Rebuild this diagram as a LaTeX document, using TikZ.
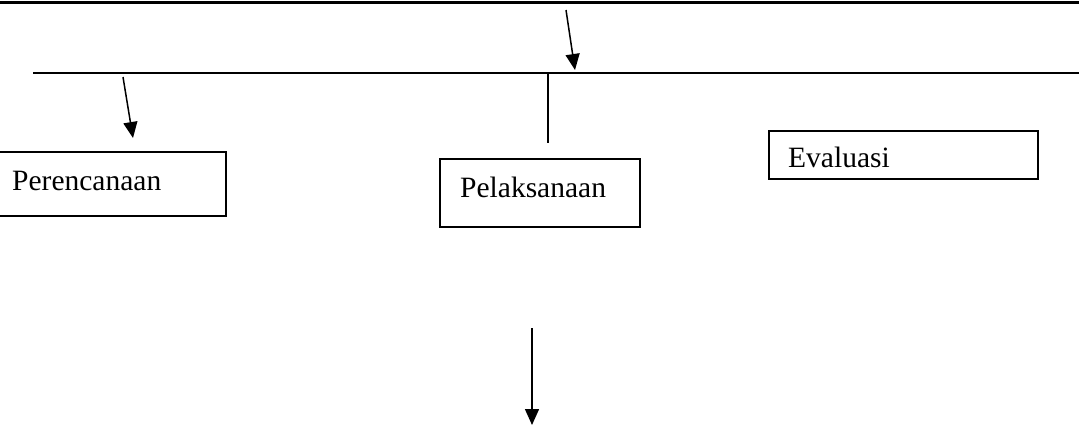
\documentclass[tikz,border=0pt]{standalone}
\usepackage{fontspec}
\setmainfont{Liberation Serif}
\usetikzlibrary{arrows.meta}
\begin{document}
\begin{tikzpicture}[x=1pt,y=-1pt,
  box/.style={draw,line width=1.8pt,rectangle,inner sep=0pt},
  lbl/.style={anchor=base west,inner sep=0pt,font=\fontsize{29.5}{34}\selectfont},
  con/.style={line width=1.5pt},
  arr/.style={con,-{Triangle[length=16pt,width=14pt]}}]
\useasboundingbox (0,0) rectangle (1079,426);
% top rule and main horizontal line
\coordinate (tl) at (0,2.5);
\coordinate (tr) at (1079,2.5);
\draw[line width=3pt] (tl) -- (tr);
\coordinate (hl) at (33,73);
\coordinate (hr) at (1079,73);
\draw[line width=1.6pt] (hl) -- (hr);
% boxes
\node[box,minimum width=228pt,minimum height=64pt] (per) at (112,184) {};
\node[lbl] (pert) at (12,190) {Perencanaan};
\node[box,minimum width=200pt,minimum height=68pt] (pel) at (540,193) {};
\node[lbl] (pelt) at (460,197) {Pelaksanaan};
\node[box,minimum width=269pt,minimum height=48pt] (eva) at (903.5,155) {};
\node[lbl] (evat) at (788,167) {Evaluasi};
% connectors
\coordinate (a1s) at (566,10);
\coordinate (a1e) at (575,70);
\draw[arr] (a1s) -- (a1e);
\coordinate (a2s) at (123,77);
\coordinate (a2e) at (133,138);
\draw[arr] (a2s) -- (a2e);
\coordinate (vs) at (548,73);
\coordinate (ve) at (548,143);
\draw[con] (vs) -- (ve);
\coordinate (a3s) at (532,328);
\coordinate (a3e) at (532,425);
\draw[arr] (a3s) -- (a3e);
\end{tikzpicture}
\end{document}
